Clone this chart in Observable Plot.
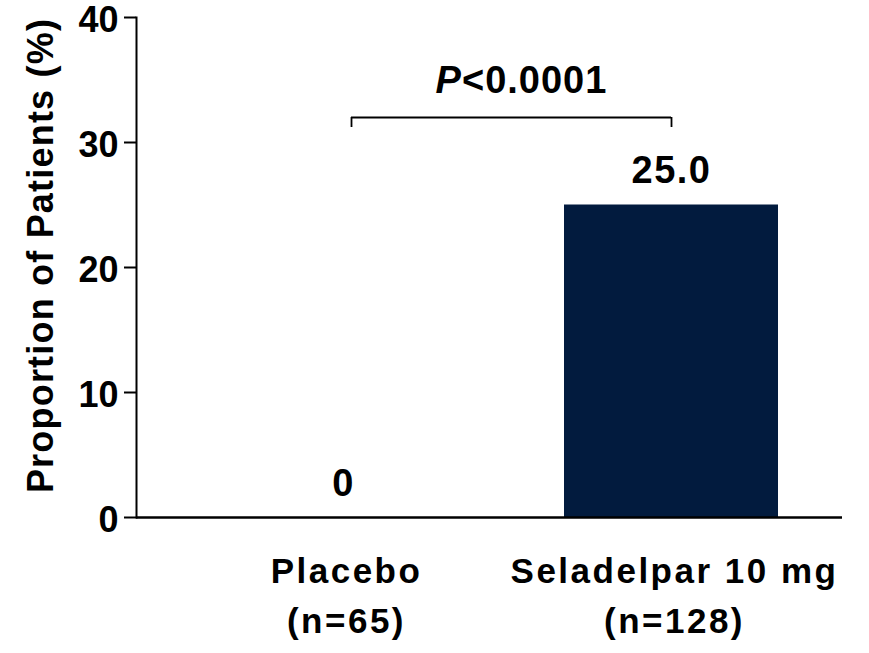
<!DOCTYPE html>
<html>
<head>
<meta charset="utf-8">
<script src="https://cdn.jsdelivr.net/npm/d3@7"></script>
<script src="https://cdn.jsdelivr.net/npm/@observablehq/plot@0.6"></script>
<style>
  html, body { margin: 0; padding: 0; background: #fff; }
  svg { font-family: "Liberation Sans", Arial, sans-serif; font-weight: bold; }
</style>
</head>
<body>
<div id="chart"></div>
<script>
const groups = ["Placebo", "Seladelpar 10 mg"];
const groupN = ["(n=65)", "(n=128)"];
const values = [0, 25.0];
const valueLabels = ["0", "25.0"];
const yTicks = [0, 10, 20, 30, 40];
const yLabel = "Proportion of Patients (%)";
const pItalic = "P";
const pRest = "<0.0001";
const pLabel = pItalic + pRest;
const bracketY = 32;
const bracketTick = 31.2;

const data = groups.map((g, i) => ({group: g, value: values[i], label: valueLabels[i]}));
const nameOf = new Map(groups.map((g, i) => [g, g + "\n" + groupN[i]]));

const chart = Plot.plot({
  width: 869,
  height: 653,
  marginTop: 17,
  marginBottom: 136,
  marginLeft: 136,
  marginRight: 27,
  style: {fontFamily: "'Liberation Sans', Arial, sans-serif", fontWeight: "bold", color: "#000", background: "#fff"},
  x: {domain: groups, range: [136, 878], paddingInner: 0.348, paddingOuter: 0.305},
  y: {domain: [0, 40]},
  marks: [
    Plot.barY(data, {x: "group", y: "value", fill: "#021b3e"}),
    Plot.ruleY([0], {stroke: "#000", strokeWidth: 2.5}),
    Plot.frame({anchor: "left", stroke: "#000", strokeWidth: 2}),
    Plot.axisY({ticks: yTicks, tickSize: 12, tickPadding: 6, fontSize: 36, label: null, strokeWidth: 2}),
    Plot.axisX({tickSize: 0, tickPadding: 30, fontSize: 35, lineHeight: 1.43, dx: 3, tickFormat: d => nameOf.get(d), label: null}),
    Plot.text(data, {x: "group", y: "value", text: "label", dy: -34, fontSize: 38, fontWeight: "bold", fill: "#000"}),
    Plot.ruleY([bracketY], {x1: () => groups[0], x2: () => groups[1], insetLeft: 115, insetRight: 107, stroke: "#000", strokeWidth: 1.8}),
    Plot.ruleX([groups[0]], {y1: bracketTick, y2: bracketY, dx: 8, stroke: "#000", strokeWidth: 1.8}),
    Plot.ruleX([groups[1]], {y1: bracketTick, y2: bracketY, stroke: "#000", strokeWidth: 1.8}),
    Plot.text([pLabel], {x: () => groups[0], y: () => bracketY, dx: 178, dy: -37, fontSize: 38, fontWeight: "bold", fill: "#000"}),
    Plot.text([yLabel], {frameAnchor: "left", textAnchor: "middle", rotate: -90, dx: -95, dy: -12, fontSize: 36, fontWeight: "bold", fill: "#000"})
  ]
});
document.getElementById("chart").appendChild(chart);

const svg = d3.select(chart);
svg.selectAll('g[aria-label="y-axis tick label"]').each(function () {
  const g = d3.select(this);
  const old = g.attr("transform");
  g.attr("transform", (old ? old + " " : "") + "translate(0,3)");
});
svg.selectAll('g[aria-label="x-axis tick label"] text').style("letter-spacing", "2.5px");
svg.selectAll("text").filter(function () { return this.textContent === yLabel; }).style("letter-spacing", "1.2px");
svg.selectAll("text").filter(function () { return valueLabels.includes(this.textContent) && !this.closest('g[aria-label^="y-axis"]'); }).style("letter-spacing", "1.5px");
svg.selectAll("text").filter(function () { return this.textContent === pLabel; }).each(function () {
  const t = d3.select(this);
  t.text(null).style("letter-spacing", "1px");
  t.append("tspan").attr("font-style", "italic").text(pItalic);
  t.append("tspan").text(pRest);
});
</script>
</body>
</html>
